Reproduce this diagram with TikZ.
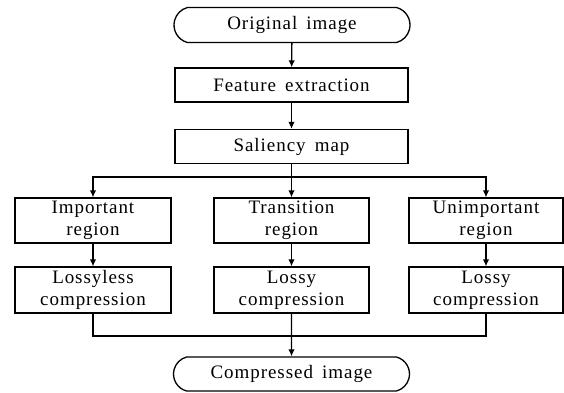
\documentclass[tikz,border=0pt]{standalone}
\usepackage{fontspec}
\setmainfont[LetterSpace=5,WordSpace=1.6]{Liberation Serif}
\usetikzlibrary{arrows.meta,shapes.misc}
\begin{document}
\begin{tikzpicture}[x=1pt,y=-1pt,
  every node/.style={font=\fontsize{19}{22}\selectfont, align=center, inner sep=0pt},
  box/.style={draw, line width=1.3pt, rectangle, minimum height=#1},
  box/.default=45pt,
  term/.style={draw, line width=1.3pt, rounded rectangle, rounded rectangle arc length=150, minimum width=236pt, minimum height=35pt},
  conn/.style={line width=1.3pt},
  arr/.style={line width=1.3pt, -{Latex[length=7pt,width=6.5pt]}}]
\useasboundingbox (0,0) rectangle (564,392);
\node[term] (orig) at (292,25) {Original image};
\node[box=34pt, minimum width=233pt] (fe) at (291.5,85) {Feature extraction};
\node[box=34pt, minimum width=233pt] (sm) at (291.5,146.5) {Saliency map};
\node[box, minimum width=156pt] (ir) at (93,220.5) {Important\\region};
\node[box, minimum width=155pt] (tr) at (291.5,220.5) {Transition\\region};
\node[box, minimum width=154pt] (ur) at (486,220.5) {Unimportant\\region};
\node[box=46pt, minimum width=156pt] (lc1) at (93,290) {Lossyless\\compression};
\node[box=46pt, minimum width=155pt] (lc2) at (291.5,290) {Lossy\\compression};
\node[box=46pt, minimum width=154pt] (lc3) at (486,290) {Lossy\\compression};
\node[term, minimum height=34pt] (ci) at (291.5,374) {Compressed image};
\coordinate (split) at (291.5,177);
\coordinate (merge) at (291.5,336);
\draw[arr] (orig) -- (fe);
\draw[arr] (fe) -- (sm);
\draw[conn] (sm) -- (split);
\draw[arr] (split) -| (ir);
\draw[arr] (split) -- (tr);
\draw[arr] (split) -| (ur);
\draw[arr] (ir) -- (lc1);
\draw[arr] (tr) -- (lc2);
\draw[arr] (ur) -- (lc3);
\draw[conn] (lc1) |- (merge);
\draw[conn] (lc3) |- (merge);
\draw[arr] (lc2) -- (ci);
\end{tikzpicture}
\end{document}
